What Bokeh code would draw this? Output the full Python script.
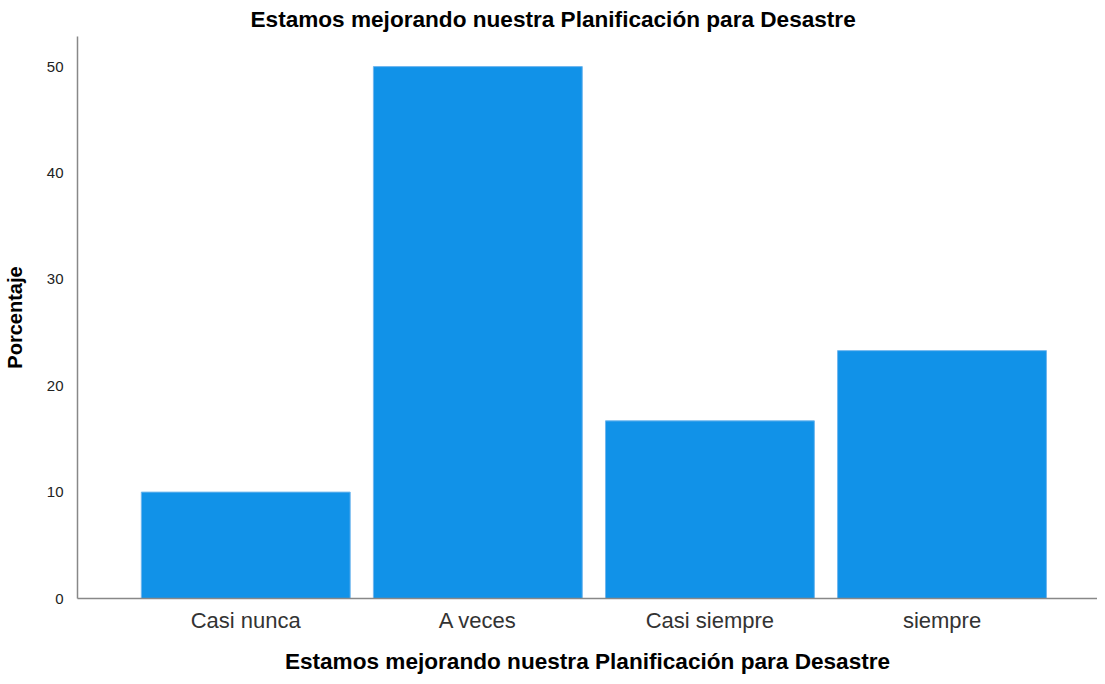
from bokeh.plotting import figure
from bokeh.models import Range1d, ColumnDataSource, FixedTicker
from bokeh.embed import file_html
from bokeh.resources import INLINE

categories = ["Casi nunca", "A veces", "Casi siempre", "siempre"]
percentages = [10.0, 50.0, 16.7, 23.3]
y_ticks = [0, 10, 20, 30, 40, 50]

title_text = "Estamos mejorando nuestra Planificación para Desastre"

positions = list(range(len(categories)))
source = ColumnDataSource(dict(x=positions, cat=categories, pct=percentages))

p = figure(
    width=1097, height=676,
    x_range=Range1d(-0.725, 3.67),
    y_range=Range1d(0, 52.83),
    output_backend="svg", toolbar_location=None,
    min_border_left=0, min_border_right=0, min_border_top=0, min_border_bottom=0,
)

p.vbar(x="x", top="pct", width=0.9, source=source,
       fill_color="#1192E8", line_color="#6FB6EE", line_width=1)

p.title.text = title_text
p.title.align = "left"
p.title.offset = 173
p.title.text_font = "Liberation Sans"
p.title.text_font_style = "bold"
p.title.text_font_size = "22.6px"
p.title.text_color = "#000000"
p.title.standoff = 9

p.xgrid.visible = False
p.ygrid.visible = False
p.outline_line_color = None

p.yaxis.ticker = FixedTicker(ticks=y_ticks)
p.xaxis.ticker = FixedTicker(ticks=positions)
p.xaxis.major_label_overrides = {i: c for i, c in zip(positions, categories)}
p.yaxis.axis_label = "Porcentaje"
p.xaxis.axis_label = title_text
for ax in (p.xaxis, p.yaxis):
    ax.axis_line_color = "#888888"
    ax.axis_line_width = 1.5
    ax.major_tick_line_color = None
    ax.minor_tick_line_color = None
    ax.axis_label_text_font = "Liberation Sans"
    ax.axis_label_text_font_style = "bold"
    ax.axis_label_text_color = "#000000"
    ax.major_label_text_font = "Liberation Sans"

p.yaxis.major_label_text_font_size = "15px"
p.yaxis.major_label_text_color = "#222222"
p.yaxis.major_label_standoff = 8
p.yaxis.axis_label_text_font_size = "20px"
p.yaxis.axis_label_standoff = 18

p.xaxis.major_label_text_font_size = "22px"
p.xaxis.major_label_text_color = "#333333"
p.xaxis.major_label_standoff = 3
p.xaxis.axis_label_text_font_size = "22.6px"
p.xaxis.axis_label_standoff = 13

open("out.html", "w").write(file_html(p, INLINE))
